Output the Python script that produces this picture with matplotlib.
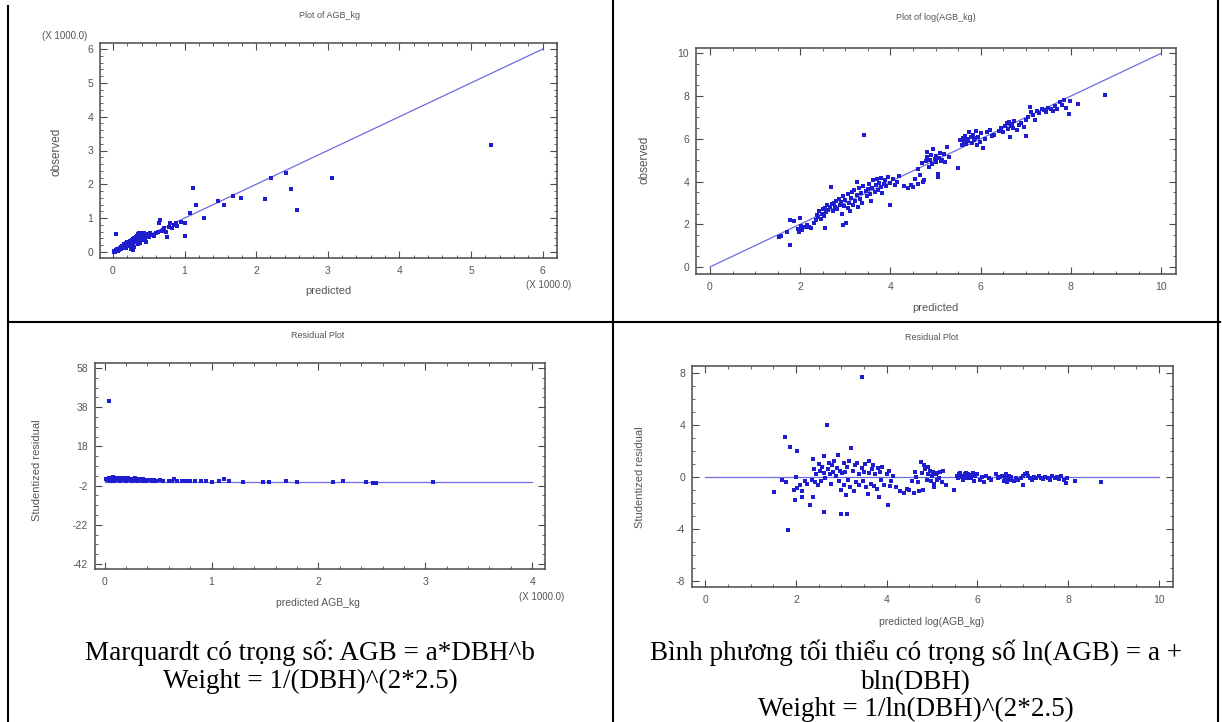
import matplotlib
matplotlib.use("Agg")
from matplotlib import pyplot as plt
from matplotlib.lines import Line2D
from matplotlib.ticker import AutoMinorLocator

# ---- data ----
# top left: observed vs predicted AGB (units of 1000 kg)
tl_pred = [0.01, 0.02, 0.03, 0.04, 0.05, 0.06, 0.07, 0.08, 0.09, 0.10, 0.10, 0.11,
           0.12, 0.13, 0.14, 0.15, 0.15, 0.16, 0.17, 0.18, 0.18, 0.19, 0.20, 0.20,
           0.21, 0.22, 0.22, 0.23, 0.24, 0.24, 0.25, 0.26, 0.26, 0.27, 0.28, 0.28,
           0.29, 0.30, 0.30, 0.31, 0.32, 0.32, 0.33, 0.34, 0.34, 0.35, 0.35, 0.36,
           0.37, 0.37, 0.38, 0.39, 0.40, 0.40, 0.41, 0.42, 0.43, 0.44, 0.45, 0.46,
           0.47, 0.25, 0.30, 0.35, 0.38, 0.28, 0.50, 0.52, 0.55, 0.58, 0.60, 0.63,
           0.65, 0.66, 0.68, 0.70, 0.72, 0.74, 0.76, 0.78, 0.80, 0.82, 0.85, 0.88,
           0.90, 0.95, 1.00, 1.00, 1.07, 1.12, 1.16, 1.27, 1.47, 1.55, 1.68, 1.79,
           2.13, 2.21, 2.42, 2.49, 2.57, 3.06, 5.28, 0.04]
tl_obs = [0.00, 0.02, 0.01, 0.05, 0.03, 0.08, 0.04, 0.10, 0.06, 0.12, 0.08, 0.15,
          0.10, 0.18, 0.12, 0.20, 0.14, 0.22, 0.16, 0.25, 0.12, 0.20, 0.28, 0.17,
          0.23, 0.30, 0.19, 0.26, 0.33, 0.21, 0.28, 0.35, 0.24, 0.31, 0.38, 0.26,
          0.33, 0.42, 0.29, 0.36, 0.45, 0.31, 0.40, 0.48, 0.35, 0.43, 0.52, 0.38,
          0.47, 0.55, 0.42, 0.50, 0.57, 0.45, 0.35, 0.52, 0.48, 0.56, 0.40, 0.30,
          0.52, 0.10, 0.15, 0.22, 0.25, 0.05, 0.45, 0.55, 0.50, 0.47, 0.55, 0.58,
          0.85, 0.93, 0.62, 0.65, 0.70, 0.60, 0.45, 0.75, 0.85, 0.72, 0.80, 0.87,
          0.78, 0.88, 0.48, 0.85, 1.14, 1.89, 1.39, 1.00, 1.50, 1.38, 1.65, 1.59,
          1.57, 2.18, 2.32, 1.87, 1.24, 2.20, 3.15, 0.52]
tl_line = [0, 6]

# top right: observed vs predicted log(AGB)
tr_pred = [1.52, 1.58, 1.70, 1.78, 1.78, 1.86, 1.95, 1.98, 2.02, 2.00, 2.05, 2.10,
           2.15, 2.20, 2.25, 2.30, 2.35, 2.38, 2.40, 2.42, 2.45, 2.48, 2.50, 2.52,
           2.55, 2.55, 2.58, 2.60, 2.62, 2.65, 2.68, 2.70, 2.72, 2.75, 2.78, 2.80,
           2.82, 2.85, 2.88, 2.90, 2.92, 2.95, 2.95, 2.98, 3.00, 3.02, 3.05, 3.05,
           3.08, 3.10, 3.12, 3.15, 3.18, 3.20, 3.22, 3.25, 3.25, 3.28, 3.30, 3.32,
           3.35, 3.38, 3.40, 3.42, 3.45, 3.48, 3.50, 3.52, 3.55, 3.58, 3.60, 3.62,
           3.65, 3.68, 3.70, 3.72, 3.75, 3.78, 3.80, 3.82, 3.85, 3.88, 3.90, 3.95,
           3.98, 4.00, 4.05, 4.10, 4.15, 4.20, 4.30, 4.38, 4.45, 4.50, 4.55, 4.60,
           4.62, 4.65, 4.70, 4.72, 4.75, 4.78, 4.80, 4.82, 4.85, 4.88, 4.90, 4.92,
           4.95, 4.98, 5.00, 5.02, 5.05, 5.05, 5.08, 5.10, 5.12, 5.15, 5.18, 5.22,
           5.25, 5.30, 5.50, 5.55, 5.58, 5.60, 5.62, 5.65, 5.68, 5.70, 5.72, 5.75,
           5.78, 5.80, 5.82, 5.85, 5.88, 5.90, 5.92, 5.95, 5.98, 6.00, 6.05, 6.10,
           6.15, 6.20, 6.25, 6.30, 6.40, 6.45, 6.50, 6.55, 6.58, 6.60, 6.62, 6.65,
           6.68, 6.70, 6.72, 6.75, 6.80, 6.85, 6.90, 6.95, 7.00, 7.00, 7.05, 7.10,
           7.12, 7.15, 7.20, 7.25, 7.30, 7.35, 7.40, 7.45, 7.50, 7.55, 7.60, 7.65,
           7.70, 7.75, 7.80, 7.85, 7.90, 7.95, 7.98, 8.15, 8.75]
tr_obs = [1.38, 1.45, 1.62, 1.05, 2.18, 2.16, 1.80, 1.65, 1.92, 2.30, 1.75, 1.88,
          1.95, 1.85, 1.82, 2.05, 2.20, 2.45, 2.35, 2.60, 2.25, 2.50, 2.70, 2.40,
          1.82, 2.75, 2.55, 2.90, 2.65, 2.80, 3.75, 2.95, 2.60, 3.00, 2.80, 3.10,
          2.70, 3.20, 2.90, 3.05, 2.50, 3.30, 1.95, 2.85, 3.15, 2.05, 2.75, 3.40,
          3.00, 2.60, 3.25, 3.50, 2.90, 3.60, 3.10, 4.00, 3.35, 2.80, 3.70, 3.20,
          3.45, 3.00, 3.80, 6.20, 3.55, 3.30, 3.65, 3.90, 3.40, 3.10, 3.70, 4.05,
          3.50, 3.85, 4.10, 3.60, 3.95, 3.75, 4.15, 3.45, 3.90, 4.05, 3.80, 4.20,
          2.90, 3.95, 4.10, 3.85, 4.00, 4.25, 3.80, 3.70, 3.85, 3.75, 4.10, 3.90,
          4.60, 4.30, 4.85, 4.00, 4.05, 4.95, 5.40, 5.15, 4.70, 5.00, 5.25, 4.80,
          5.50, 5.05, 4.90, 5.20, 4.20, 4.35, 5.10, 5.35, 4.95, 5.00, 5.30, 4.90,
          5.60, 5.15, 4.65, 5.95, 5.70, 6.05, 5.85, 6.15, 5.75, 6.00, 5.90, 6.30,
          6.10, 5.80, 6.20, 5.95, 6.05, 6.35, 5.70, 6.10, 5.85, 6.25, 5.55, 6.00,
          6.30, 6.40, 6.15, 6.20, 6.35, 6.50, 6.30, 6.60, 6.75, 6.45, 6.80, 6.10,
          6.60, 6.70, 6.50, 6.85, 6.40, 6.65, 6.75, 6.55, 6.15, 6.90, 7.00, 7.50,
          7.25, 7.10, 6.90, 7.30, 7.20, 7.40, 7.35, 7.25, 7.45, 7.40, 7.30, 7.55,
          7.40, 7.70, 7.60, 7.80, 7.45, 7.15, 7.75, 7.65, 8.05]
tr_line = [0, 10]

# bottom left: studentized residual vs predicted AGB (units of 1000 kg)
bl_pred = [0.01, 0.02, 0.03, 0.04, 0.05, 0.06, 0.07, 0.08, 0.09, 0.10, 0.11, 0.12,
           0.13, 0.14, 0.15, 0.16, 0.17, 0.18, 0.19, 0.20, 0.21, 0.22, 0.23, 0.24,
           0.25, 0.26, 0.27, 0.28, 0.29, 0.30, 0.31, 0.32, 0.33, 0.34, 0.35, 0.36,
           0.37, 0.38, 0.39, 0.40, 0.42, 0.44, 0.46, 0.48, 0.52, 0.55, 0.60, 0.63,
           0.65, 0.68, 0.72, 0.76, 0.80, 0.85, 0.90, 0.95, 1.00, 1.07, 1.12, 1.16,
           1.29, 1.48, 1.54, 1.70, 1.80, 2.14, 2.23, 2.45, 2.51, 2.54, 3.07, 0.04]
bl_resid = [1.2, 0.8, 1.5, 2.0, 0.6, 1.8, 1.0, 2.2, 0.4, 1.6, 0.9, 2.1,
            1.3, 0.5, 1.9, 1.1, 0.7, 1.7, 1.4, 0.3, 1.2, 2.0, 0.8, 1.5,
            1.0, 0.6, 1.3, 1.8, 0.9, 0.4, 1.1, 1.6, 0.7, 1.2, 0.5, 1.4,
            0.9, 1.0, 0.6, 1.1, 0.8, 0.5, 1.0, 0.4, 0.7, 0.3, 0.6, 0.2,
            1.5, 0.4, 0.5, 0.2, 0.6, 0.3, 0.5, 0.1, -0.4, 0.4, 1.5, 0.6,
            -0.3, 0.0, -0.2, 0.1, -0.3, -0.2, 0.1, -0.2, -0.5, -0.6, -0.4, 41.0]
bl_line = [0, 4]

# bottom right: studentized residual vs predicted log(AGB)
br_pred = [1.52, 1.70, 1.75, 1.78, 1.82, 1.86, 1.95, 1.98, 2.00, 2.03, 2.03, 2.10,
           2.14, 2.14, 2.20, 2.25, 2.32, 2.35, 2.38, 2.38, 2.40, 2.42, 2.45, 2.48,
           2.50, 2.52, 2.55, 2.58, 2.61, 2.61, 2.62, 2.65, 2.68, 2.70, 2.72, 2.75,
           2.78, 2.80, 2.82, 2.85, 2.88, 2.90, 2.92, 2.95, 2.98, 2.99, 3.00, 3.02,
           3.05, 3.05, 3.08, 3.10, 3.12, 3.12, 3.15, 3.18, 3.20, 3.22, 3.25, 3.28,
           3.30, 3.32, 3.35, 3.38, 3.40, 3.45, 3.45, 3.48, 3.50, 3.52, 3.55, 3.58,
           3.60, 3.62, 3.65, 3.68, 3.70, 3.72, 3.75, 3.78, 3.80, 3.82, 3.85, 3.88,
           3.90, 3.95, 4.00, 4.02, 4.05, 4.08, 4.10, 4.15, 4.20, 4.30, 4.38, 4.45,
           4.50, 4.55, 4.60, 4.62, 4.65, 4.70, 4.72, 4.75, 4.78, 4.80, 4.82, 4.85,
           4.88, 4.90, 4.92, 4.95, 4.98, 5.00, 5.02, 5.05, 5.05, 5.08, 5.10, 5.12,
           5.15, 5.18, 5.22, 5.25, 5.30, 5.48, 5.55, 5.58, 5.60, 5.62, 5.65, 5.68,
           5.70, 5.72, 5.75, 5.78, 5.80, 5.82, 5.85, 5.88, 5.90, 5.92, 5.95, 5.98,
           6.00, 6.05, 6.10, 6.15, 6.20, 6.25, 6.30, 6.40, 6.45, 6.50, 6.55, 6.58,
           6.60, 6.62, 6.65, 6.68, 6.70, 6.72, 6.75, 6.80, 6.85, 6.90, 6.95, 7.00,
           7.00, 7.05, 7.10, 7.12, 7.15, 7.20, 7.25, 7.30, 7.35, 7.40, 7.45, 7.50,
           7.55, 7.60, 7.65, 7.70, 7.75, 7.80, 7.85, 7.90, 7.95, 7.98, 8.15, 8.73]
br_resid = [-1.13, -0.25, 3.10, -0.40, -4.08, 2.30, -1.00, -1.80, 0.00, 2.00, -0.83, -0.60,
            -1.10, -1.50, -0.30, -0.50, -2.15, -0.20, -1.50, 1.36, 0.60, -0.40, 0.20, -0.60,
            1.00, 0.50, -0.30, 0.80, 1.60, -2.69, 0.30, -0.10, 4.00, 0.60, 1.10, 0.20,
            -0.50, 0.90, 0.40, 1.20, 0.10, 0.70, 1.70, -0.30, 0.50, -2.87, -1.00, 0.30,
            1.10, -0.60, 0.40, -1.40, -2.82, 0.80, -0.20, 1.20, -0.80, 2.26, 0.50, -1.10,
            0.90, -0.40, 1.10, 0.20, -0.60, 7.70, 0.70, -0.30, 0.40, 1.00, -0.80, -1.30,
            0.30, 1.20, -0.50, 0.60, 0.90, -0.70, 0.20, -0.90, 0.70, -1.50, 0.40, -0.20,
            0.80, -0.60, 0.20, -2.15, 0.50, -0.70, -0.30, 0.10, -0.80, -1.10, -1.20, -0.90,
            -1.00, -0.30, -1.20, 0.40, 0.00, -0.40, -1.10, 1.18, 0.30, -1.00, 0.90, 0.60,
            -0.20, 0.80, 0.20, 0.50, -0.30, 0.10, 0.40, -0.80, -0.50, 0.20, 0.30, -0.20,
            -0.10, 0.40, -0.40, 0.50, -0.60, -1.00, 0.10, -0.10, 0.20, 0.30, 0.00, -0.20,
            0.10, 0.25, 0.30, -0.05, 0.20, 0.15, -0.10, 0.05, 0.30, -0.30, 0.10, 0.20,
            0.20, -0.20, 0.00, -0.40, 0.10, -0.10, -0.25, 0.20, -0.10, 0.00, 0.10, -0.30,
            -0.05, 0.20, -0.40, -0.15, 0.05, -0.20, 0.00, -0.30, -0.10, -0.25, -0.05, -0.60,
            0.05, 0.20, 0.30, 0.10, -0.05, -0.20, 0.00, -0.10, 0.05, -0.05, -0.15, 0.00,
            -0.05, -0.20, 0.05, -0.10, 0.00, -0.15, 0.05, -0.25, -0.45, -0.10, -0.30, -0.36]
br_line = [0, 10]

caption_left = ["Marquardt có trọng số: AGB = a*DBH^b",
                "Weight = 1/(DBH)^(2*2.5)"]
caption_right = ["Bình phương tối thiểu có trọng số ln(AGB) = a +",
                 "bln(DBH)",
                 "Weight = 1/ln(DBH)^(2*2.5)"]

W, H = 1222, 722
TEXT = "#555555"
SPINE = "#4a4a4a"
DOT = "#1e1ecf"
LINE = "#6c6ce0"

plt.rcParams["font.family"] = ["Liberation Sans", "DejaVu Sans"]
plt.rcParams["axes.unicode_minus"] = False

fig = plt.figure(figsize=(W / 100, H / 100), dpi=100)


def px_axes(left, top, right, bottom):
    return fig.add_axes([left / W, 1 - bottom / H, (right - left) / W, (bottom - top) / H])


def px_text(x, y, s, **kw):
    kw.setdefault("ha", "center")
    kw.setdefault("va", "center")
    fig.text(x / W, 1 - y / H, s, **kw)


def px_line(x0, y0, x1, y1, lw=1.5):
    fig.add_artist(Line2D([x0 / W, x1 / W], [1 - y0 / H, 1 - y1 / H],
                          transform=fig.transFigure, color="black", lw=lw))


def style(ax, xlim, ylim, xticks, yticks, xminor, yminor):
    ax.set_xlim(xlim)
    ax.set_ylim(ylim)
    ax.set_xticks(xticks)
    ax.set_yticks(yticks)
    ax.xaxis.set_minor_locator(AutoMinorLocator(xminor))
    ax.yaxis.set_minor_locator(AutoMinorLocator(yminor))
    ax.tick_params(which="both", direction="in", top=True, right=True,
                   color=SPINE, labelcolor=TEXT, labelsize=7.5)
    ax.tick_params(axis="x", which="major", pad=6)
    ax.tick_params(axis="y", which="major", pad=5)
    ax.tick_params(which="major", length=5, width=0.8)
    ax.tick_params(which="minor", length=2.5, width=0.6)
    for sp in ax.spines.values():
        sp.set_color(SPINE)
        sp.set_linewidth(1.1)


def draw(ax, x, y, line_x, diagonal):
    line_y = line_x if diagonal else [0, 0]
    ax.plot(line_x, line_y, color=LINE, lw=0.9, zorder=2)
    ax.scatter(x, y, s=7, marker="s", color=DOT, linewidths=0, zorder=3)


# top left
ax = px_axes(100, 43, 557, 258)
draw(ax, tl_pred, tl_obs, tl_line, True)
style(ax, (-0.18, 6.2), (-0.18, 6.18), range(0, 7), range(0, 7), 5, 5)
px_text(330, 15, "Plot of AGB_kg", fontsize=6.5, color=TEXT)
px_text(65, 36, "(X 1000.0)", fontsize=7, color=TEXT)
px_text(549, 285, "(X 1000.0)", fontsize=7, color=TEXT)
px_text(56, 152, "observed", fontsize=8.5, color=TEXT, rotation=90)
px_text(328, 291, "predicted", fontsize=8, color=TEXT)

# top right
ax = px_axes(696, 48, 1176, 274)
draw(ax, tr_pred, tr_obs, tr_line, True)
style(ax, (-0.31, 10.33), (-0.33, 10.25), range(0, 11, 2), range(0, 11, 2), 4, 4)
px_text(936, 18, "Plot of log(AGB_kg)", fontsize=6.5, color=TEXT)
px_text(645, 160, "observed", fontsize=8.5, color=TEXT, rotation=90)
px_text(935, 308, "predicted", fontsize=8, color=TEXT)

# bottom left
ax = px_axes(95, 363, 545, 569)
draw(ax, bl_pred, bl_resid, bl_line, False)
style(ax, (-0.09, 4.12), (-44.5, 60.5), range(0, 5), range(-42, 59, 20), 5, 4)
px_text(318, 336, "Residual Plot", fontsize=6.5, color=TEXT)
px_text(37, 470, "Studentized residual", fontsize=8, color=TEXT, rotation=90)
px_text(318, 603, "predicted AGB_kg", fontsize=7.5, color=TEXT)
px_text(542, 597, "(X 1000.0)", fontsize=7, color=TEXT)

# bottom right
ax = px_axes(692, 366, 1173, 587)
draw(ax, br_pred, br_resid, br_line, False)
style(ax, (-0.29, 10.31), (-8.46, 8.54), range(0, 11, 2), range(-8, 9, 4), 4, 4)
px_text(932, 337, "Residual Plot", fontsize=6.5, color=TEXT)
px_text(640, 477, "Studentized residual", fontsize=8, color=TEXT, rotation=90)
px_text(932, 622, "predicted log(AGB_kg)", fontsize=7.5, color=TEXT)

# captions in the table cells (positions are text baselines)
serif = ["Liberation Serif", "DejaVu Serif"]
for text, y in zip(caption_left, [660, 688]):
    px_text(310, y, text, fontsize=19.5, family=serif, color="black", va="baseline")
for text, y in zip(caption_right, [660, 689, 716]):
    px_text(916, y, text, fontsize=19.5, family=serif, color="black", va="baseline")

# table borders
px_line(8, 6, 8, 722)
px_line(613, 0, 613, 722)
px_line(1218, 0, 1218, 722)
px_line(8, 322, 1220, 322)

fig.savefig("out.png", dpi=100)
